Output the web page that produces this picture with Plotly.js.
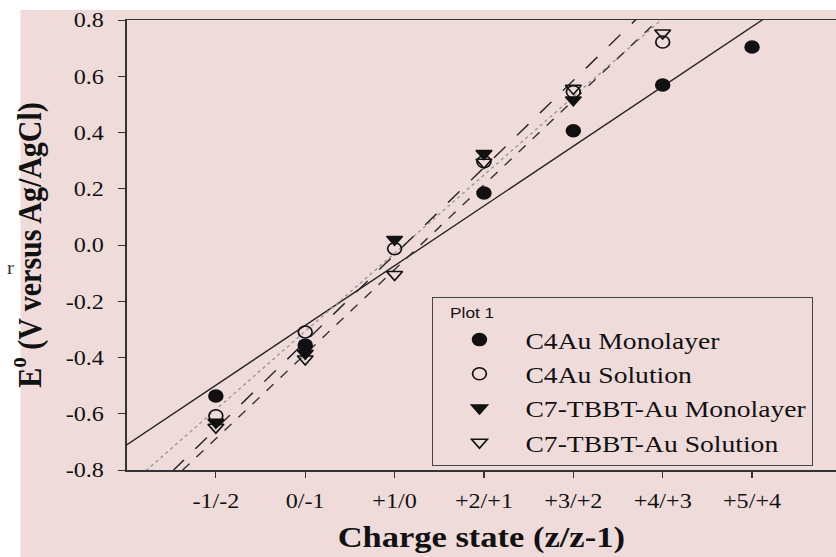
<!DOCTYPE html>
<html>
<head>
<meta charset="utf-8">
<script src="https://cdn.plot.ly/plotly-3.0.1.min.js"></script>
<style>
html,body{margin:0;padding:0;background:#fff;overflow:hidden;}
#chart{width:727px;height:557px;transform:scaleX(1.15);transform-origin:0 0;}
</style>
</head>
<body>
<div id="chart"></div>
<script>
// Charge-state positions (z) and their tick labels
const chargeZ = [-1, 0, 1, 2, 3, 4, 5];
const tickLabels = ["-1/-2", "0/-1", "+1/0", "+2/+1", "+3/+2", "+4/+3", "+5/+4"];
const yTickVals = [-0.8, -0.6, -0.4, -0.2, 0, 0.2, 0.4, 0.6, 0.8];
const yTickLabels = ["-0.8", "-0.6", "-0.4", "-0.2", "0.0", "0.2", "0.4", "0.6", "0.8"];

// Formal potentials E° (V vs Ag/AgCl) (null = not visible)
const c4MonoE   = [-0.537, -0.356, null, 0.185, 0.406, 0.569, 0.704];
const c4SolE    = [-0.607, -0.309, -0.013, 0.296, 0.545, 0.722, null];
const c7MonoE   = [-0.630, -0.385, 0.020, 0.325, 0.516, null, null];
const c7SolE    = [-0.648, -0.405, -0.105, 0.294, 0.557, 0.754, null];

const seriesNames = ["C4Au Monolayer", "C4Au Solution", "C7-TBBT-Au Monolayer", "C7-TBBT-Au Solution"];

// Linear fit parameters (slope per charge step, intercept at z = 0)
const fitSlope     = [0.2124, 0.278, 0.3096, 0.3008];
const fitIntercept = [-0.286, -0.307, -0.344, -0.388];
const fitZ = [-2, 6];

const pink = "rgb(240,219,219)";
const ink = "#111";
const series = [c4MonoE, c4SolE, c7MonoE, c7SolE];
const symbols = ["circle", "circle-open", "triangle-down", "triangle-down-open"];
const dashes = ["solid", "dot", "longdash", "dash"];
const lineColors = ["#222", "#999", "#222", "#333"];

const traces = [];
for (let i = 0; i < 4; i++) {
  traces.push({
    x: fitZ,
    y: fitZ.map(z => fitIntercept[i] + fitSlope[i] * z),
    mode: "lines",
    line: {color: lineColors[i], width: 1.3, dash: dashes[i]},
    showlegend: false,
    hoverinfo: "skip"
  });
}
for (let i = 0; i < 4; i++) {
  traces.push({
    x: chargeZ,
    y: series[i],
    name: seriesNames[i],
    mode: "markers",
    marker: {symbol: symbols[i], size: 12, color: ink, line: {color: ink, width: 1.5}}
  });
}

const layout = {
  width: 727, height: 557,
  margin: {l: 110, r: 0, t: 20, b: 87},
  paper_bgcolor: "#ffffff",
  plot_bgcolor: "rgba(0,0,0,0)",
  font: {family: "Liberation Serif, Times New Roman, serif", color: "#111"},
  showlegend: true,
  xaxis: {
    range: [-2, 5.94],
    tickvals: chargeZ, ticktext: tickLabels,
    ticks: "outside", ticklen: 6, tickwidth: 1, tickcolor: "#333",
    showline: true, linecolor: "#333", linewidth: 1.5, mirror: true,
    showgrid: false, zeroline: false,
    tickfont: {size: 21, family: "Liberation Serif"},
    ticklabelstandoff: 5,
    title: {text: "Charge state (z/z-1)", font: {size: 30, family: "Liberation Serif", weight: "bold"}, standoff: 14}
  },
  yaxis: {
    range: [-0.8, 0.8],
    tickvals: yTickVals, ticktext: yTickLabels,
    ticks: "outside", ticklen: 6, tickwidth: 1, tickcolor: "#333",
    showline: true, linecolor: "#333", linewidth: 1.5, mirror: false,
    showgrid: false, zeroline: false,
    tickfont: {size: 21, family: "Liberation Serif"},
    ticklabelstandoff: 8,
    title: {text: "E<sup>o</sup> (V versus Ag/AgCl)", font: {size: 30, family: "Liberation Serif", weight: "bold"}, standoff: 12}
  },
  legend: {
    x: 0.431, y: 0.3844, xanchor: "left", yanchor: "top",
    bgcolor: pink, bordercolor: "#444", borderwidth: 1,
    font: {size: 24, family: "Liberation Serif"},
    itemwidth: 70,
    tracegroupgap: 0,
    title: {text: "\u00a0\u00a0\u00a0Plot 1", side: "top", font: {size: 15, family: "Liberation Sans, Arial, sans-serif"}}
  },
  shapes: [{
    type: "rect", xref: "paper", yref: "paper", layer: "below",
    x0: -0.1494, x1: 1.0, y0: -0.1933, y1: 1.0222,
    fillcolor: pink, line: {width: 0}
  }],
  annotations: [{
    text: "r", xref: "paper", yref: "paper", x: -0.172, y: 0.45,
    showarrow: false, font: {size: 18, family: "Liberation Serif", color: "#333"}
  }]
};

Plotly.newPlot("chart", traces, layout, {staticPlot: true, displayModeBar: false});
</script>
</body>
</html>
